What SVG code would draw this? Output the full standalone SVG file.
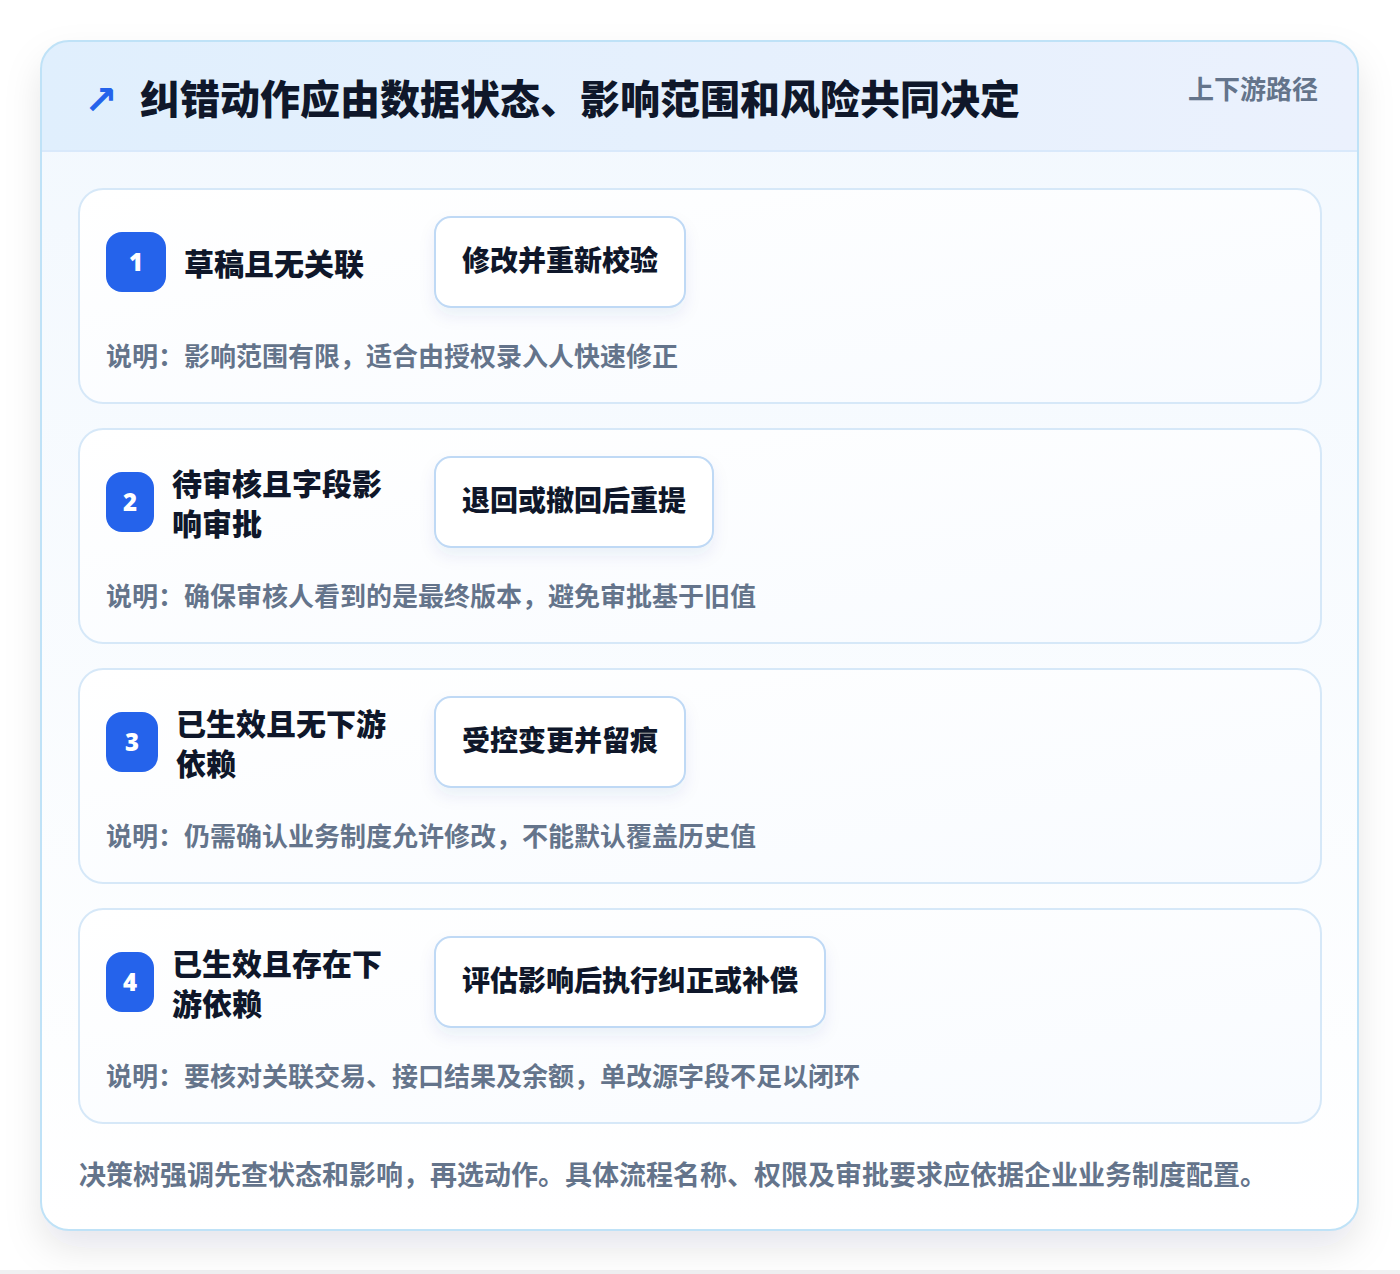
<svg xmlns="http://www.w3.org/2000/svg" width="1400" height="1274" viewBox="0 0 1400 1274">
<defs>
<linearGradient id="hdr" x1="0" y1="0" x2="1" y2="0"><stop offset="0" stop-color="#e0effd"/><stop offset="1" stop-color="#ebf1fd"/></linearGradient>
<linearGradient id="body" x1="0" y1="0" x2="0" y2="1"><stop offset="0" stop-color="#f2f8fe"/><stop offset="1" stop-color="#ffffff"/></linearGradient>
<linearGradient id="card" x1="0" y1="0" x2="1" y2="1"><stop offset="0" stop-color="#ffffff"/><stop offset="1" stop-color="#f8fbff"/></linearGradient>
<filter id="outerShadow" x="-10%" y="-10%" width="120%" height="125%"><feDropShadow dx="0" dy="18" stdDeviation="18" flood-color="#0f172a" flood-opacity="0.10"/></filter>
<filter id="boxShadow" x="-20%" y="-30%" width="140%" height="170%"><feDropShadow dx="0" dy="8" stdDeviation="8" flood-color="#1e3a8a" flood-opacity="0.07"/></filter>
<clipPath id="outerClip"><rect x="41" y="41" width="1317" height="1189" rx="28"/></clipPath>
</defs>
<style>
.cjk{font-family:"Noto Sans CJK SC","Noto Sans",sans-serif}
.title{font-size:40px;font-weight:900;fill:#0f172a}
.tag{font-size:26px;font-weight:700;fill:#64748b}
.card{fill:url(#card);stroke:#d6e8f8;stroke-width:2}
.badge{fill:#2563eb}
.num{font-family:"Noto Sans","Liberation Sans",sans-serif;font-size:24px;font-weight:900;fill:#ffffff}
.label{font-size:30px;font-weight:800;fill:#0f172a}
.action{fill:#ffffff;stroke:#bfd9f5;stroke-width:2}
.actText{font-size:28px;font-weight:800;fill:#0f172a}
.desc{font-size:26px;font-weight:700;fill:#64748b}
.foot{font-size:27px;font-weight:700;fill:#64748b}
</style>
<rect x="0" y="0" width="1400" height="1274" fill="#ffffff"/>
<rect x="0" y="1270" width="1400" height="4" fill="#f0f0f2"/>
<g id="frame">
<rect x="41" y="41" width="1317" height="1189" rx="28" fill="#ffffff" filter="url(#outerShadow)"/>
<g clip-path="url(#outerClip)">
<rect x="41" y="41" width="1317" height="1189" fill="url(#body)"/>
<rect x="41" y="41" width="1317" height="110" fill="url(#hdr)"/>
<line x1="41" y1="151" x2="1358" y2="151" stroke="#d9e9fb" stroke-width="2"/>
</g>
<rect x="41" y="41" width="1317" height="1189" rx="28" fill="none" stroke="#bfe2f7" stroke-width="2"/>
</g>
<g id="header">
<text x="84" y="114" font-family="DejaVu Sans,sans-serif" font-size="40" font-weight="bold" fill="#2563eb">↗</text>
<text x="140" y="114" class="cjk title">纠错动作应由数据状态、影响范围和风险共同决定</text>
<text x="1188" y="99" class="cjk tag">上下游路径</text>
</g>
<g id="node1">
<rect x="79" y="189" width="1242" height="214" rx="24" class="card"/>
<rect x="106" y="232" width="60" height="60" rx="16" class="badge"/>
<text x="136" y="271" text-anchor="middle" class="num">1</text>
<text x="184" y="275" class="cjk label">草稿且无关联</text>
<rect x="435" y="217" width="250" height="90" rx="16" class="action" filter="url(#boxShadow)"/>
<text x="462" y="271" class="cjk actText">修改并重新校验</text>
<text x="106" y="366" class="cjk desc">说明：影响范围有限，适合由授权录入人快速修正</text>
</g>
<g id="node2">
<rect x="79" y="429" width="1242" height="214" rx="24" class="card"/>
<rect x="106" y="472" width="48" height="60" rx="16" class="badge"/>
<text x="130" y="511" text-anchor="middle" class="num">2</text>
<text x="172" y="495" class="cjk label">待审核且字段影</text>
<text x="172" y="535" class="cjk label">响审批</text>
<rect x="435" y="457" width="278" height="90" rx="16" class="action" filter="url(#boxShadow)"/>
<text x="462" y="511" class="cjk actText">退回或撤回后重提</text>
<text x="106" y="606" class="cjk desc">说明：确保审核人看到的是最终版本，避免审批基于旧值</text>
</g>
<g id="node3">
<rect x="79" y="669" width="1242" height="214" rx="24" class="card"/>
<rect x="106" y="712" width="52" height="60" rx="16" class="badge"/>
<text x="132" y="751" text-anchor="middle" class="num">3</text>
<text x="176" y="735" class="cjk label">已生效且无下游</text>
<text x="176" y="775" class="cjk label">依赖</text>
<rect x="435" y="697" width="250" height="90" rx="16" class="action" filter="url(#boxShadow)"/>
<text x="462" y="751" class="cjk actText">受控变更并留痕</text>
<text x="106" y="846" class="cjk desc">说明：仍需确认业务制度允许修改，不能默认覆盖历史值</text>
</g>
<g id="node4">
<rect x="79" y="909" width="1242" height="214" rx="24" class="card"/>
<rect x="106" y="952" width="48" height="60" rx="16" class="badge"/>
<text x="130" y="991" text-anchor="middle" class="num">4</text>
<text x="172" y="975" class="cjk label">已生效且存在下</text>
<text x="172" y="1015" class="cjk label">游依赖</text>
<rect x="435" y="937" width="390" height="90" rx="16" class="action" filter="url(#boxShadow)"/>
<text x="462" y="991" class="cjk actText">评估影响后执行纠正或补偿</text>
<text x="106" y="1086" class="cjk desc">说明：要核对关联交易、接口结果及余额，单改源字段不足以闭环</text>
</g>
<g id="connectors"></g>
<g id="footer">
<text x="79" y="1185" class="cjk foot">决策树强调先查状态和影响，再选动作。具体流程名称、权限及审批要求应依据企业业务制度配置。</text>
</g>
</svg>
